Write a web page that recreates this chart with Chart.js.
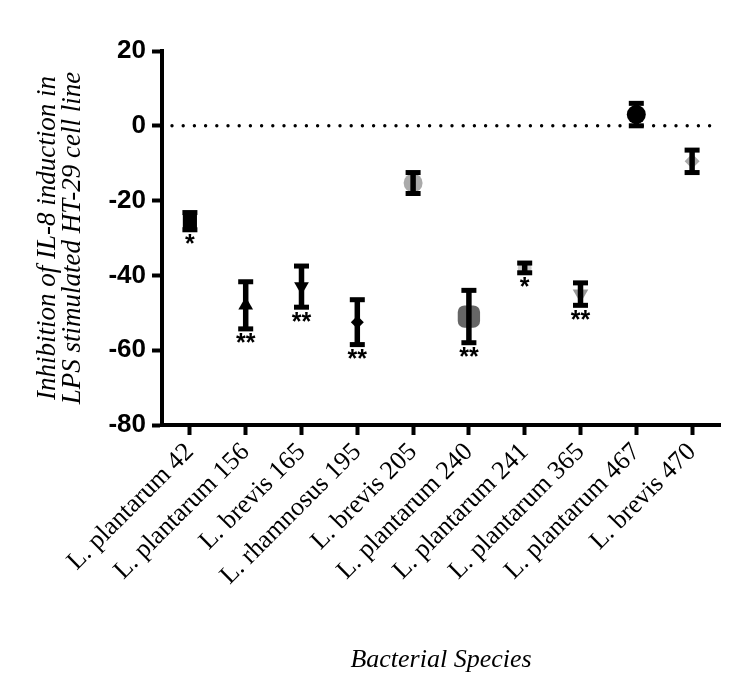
<!DOCTYPE html>
<html>
<head>
<meta charset="utf-8">
<script src="https://cdn.jsdelivr.net/npm/chart.js@4.4.1/dist/chart.umd.min.js"></script>
<style>
  html, body { margin: 0; padding: 0; background: #fff; }
  #wrap { width: 738px; height: 698px; }
</style>
</head>
<body>
<div id="wrap"><canvas id="chartIL8" width="738" height="698"></canvas></div>
<script>
// DATA
const species = ['L. plantarum 42', 'L. plantarum 156', 'L. brevis 165', 'L. rhamnosus 195', 'L. brevis 205',
                 'L. plantarum 240', 'L. plantarum 241', 'L. plantarum 365', 'L. plantarum 467', 'L. brevis 470'];
const inhibition = [-25.5, -48, -43, -52.5, -15.3, -51, -38, -45, 3, -9.5];
const errors = [2.3, 6.3, 5.5, 6, 2.8, 7, 1.3, 3, 3, 3];
const stars = ['*', '**', '**', '**', '', '**', '*', '**', '', ''];
const yTicks = [20, 0, -20, -40, -60, -80];
const refLine = [0];

// MARKER STYLES
const markerShapes = ['rect', 'triangle', 'triangle', 'rectRot', 'circle', 'rectRounded', 'circle', 'triangle', 'circle', 'rectRot'];
const markerRotation = [0, 0, 180, 0, 0, 0, 0, 180, 0, 0];
const markerColors = ['#000', '#000', '#000', '#000', '#aaa', '#666', '#ccc', '#999', '#000', '#aaa'];
const markerSizes = [10, 8.5, 8.5, 6.5, 9.5, 13, 7, 9, 9.5, 7.5];

// error bars + asterisks + dotted zero line
const errorBarPlugin = {
    id: 'errorBars',
    beforeDatasetsDraw(chart) {
        const ctx = chart.ctx;
        const ys = chart.scales.y;
        ctx.save();
        ctx.strokeStyle = '#000';
        ctx.lineWidth = 3.4;
        ctx.lineCap = 'round';
        ctx.setLineDash([0, 11.2]);
        refLine.forEach(v => {
            const y = ys.getPixelForValue(v);
            ctx.beginPath();
            ctx.moveTo(chart.chartArea.left + 10, y);
            ctx.lineTo(chart.chartArea.right, y);
            ctx.stroke();
        });
        ctx.restore();
    },
    afterDatasetsDraw(chart) {
        const ctx = chart.ctx;
        const xs = chart.scales.x, ys = chart.scales.y;
        ctx.save();
        ctx.fillStyle = '#000';
        ctx.strokeStyle = '#000';
        species.forEach((name, i) => {
            const x = xs.getPixelForValue(i);
            const top = ys.getPixelForValue(inhibition[i] + errors[i]);
            const bot = ys.getPixelForValue(inhibition[i] - errors[i]);
            ctx.lineWidth = 5.5;
            ctx.beginPath();
            ctx.moveTo(x, top);
            ctx.lineTo(x, bot);
            ctx.stroke();
            ctx.fillRect(x - 7.5, top - 2.5, 15, 5);
            ctx.fillRect(x - 7.5, bot - 2.5, 15, 5);
            if (stars[i]) {
                ctx.font = 'bold 25px "Liberation Sans"';
                ctx.textAlign = 'center';
                ctx.textBaseline = 'top';
                ctx.fillText(stars[i], x, bot + 3);
            }
        });
        ctx.restore();
    }
};

const ctx = document.getElementById('chartIL8').getContext('2d');
const il8Chart = new Chart(ctx, {
    type: 'scatter',
    data: {
        datasets: [{
            label: 'Inhibition',
            data: inhibition.map((v, i) => ({ x: i, y: v })),
            pointStyle: markerShapes,
            rotation: markerRotation,
            backgroundColor: markerColors,
            borderColor: markerColors,
            borderWidth: 0,
            pointRadius: markerSizes,
            pointHoverRadius: markerSizes
        }]
    },
    options: {
        responsive: false,
        animation: false,
        layout: { padding: { left: 35, top: 51, right: 18, bottom: 22 } },
        plugins: {
            legend: { display: false },
            tooltip: { enabled: false }
        },
        scales: {
            x: {
                type: 'linear',
                min: -0.5,
                max: 9.5,
                afterBuildTicks: axis => { axis.ticks = species.map((s, i) => ({ value: i })); },
                afterFit: axis => { axis.height = 251; },
                border: { display: true, width: 4, color: '#000' },
                grid: { drawOnChartArea: false, drawTicks: true, tickLength: 10, tickWidth: 4, tickColor: '#000' },
                ticks: {
                    autoSkip: false,
                    minRotation: 45,
                    maxRotation: 45,
                    padding: 2,
                    color: '#000',
                    font: { family: '"Liberation Serif"', size: 26 },
                    callback: v => species[v]
                },
                title: {
                    display: true,
                    text: 'Bacterial Species',
                    color: '#000',
                    font: { family: '"Liberation Serif"', size: 26, style: 'italic' },
                    padding: { top: 0, bottom: 0 }
                }
            },
            y: {
                min: -80,
                max: 20,
                afterBuildTicks: axis => { axis.ticks = yTicks.map(v => ({ value: v })); },
                afterFit: axis => { axis.width = 127; },
                border: { display: true, width: 4, color: '#000' },
                grid: { drawOnChartArea: false, drawTicks: true, tickLength: 10, tickWidth: 4, tickColor: '#000' },
                ticks: {
                    padding: 6,
                    color: '#000',
                    font: { family: '"Liberation Sans"', size: 26, weight: 'bold' }
                },
                title: {
                    display: true,
                    text: ['Inhibition of IL-8 induction in', 'LPS stimulated HT-29 cell line'],
                    color: '#000',
                    font: { family: '"Liberation Serif"', size: 27, style: 'italic', lineHeight: 0.93 },
                    padding: { top: 0, bottom: 0 }
                }
            }
        }
    },
    plugins: [errorBarPlugin]
});
</script>
</body>
</html>
